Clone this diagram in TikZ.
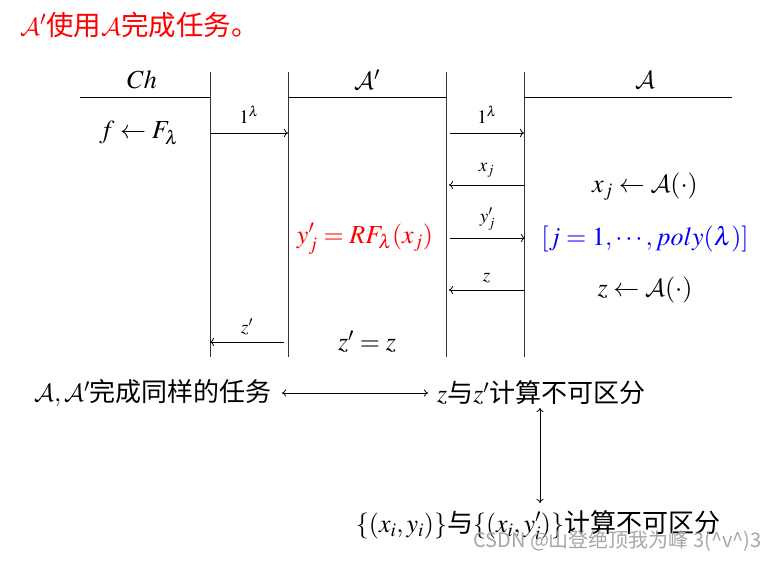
\documentclass[tikz,border=0pt]{standalone}
\usepackage{mathptmx}
\DeclareMathAlphabet{\mathcal}{OMS}{cmsy}{m}{n}
\usepackage{fontspec}
\setmainfont{Liberation Serif}
\newfontfamily\cjk{Noto Sans CJK SC}
\usetikzlibrary{arrows.meta}
\begin{document}
\begin{tikzpicture}[x=1pt,y=-1pt,
  every node/.style={inner sep=0pt},
  life/.style={line width=0.9pt, black!80},
  head/.style={line width=0.9pt, black},
  big/.style={font=\fontsize{26}{30}\selectfont},
  ttl/.style={font=\fontsize{27.5}{32}\selectfont, red},
  lbl/.style={font=\fontsize{19}{22}\selectfont},
  msg/.style={line width=0.8pt, -{To[length=4pt,width=8pt]}},
  dbl/.style={line width=0.8pt, {To[length=4pt,width=7pt]}-{To[length=4pt,width=7pt]}},
  wm/.style={font=\cjk\fontsize{20}{24}\selectfont, black!35}]
\useasboundingbox (0,0) rectangle (775,561);

% title
\node[ttl, anchor=west] (title) at (20,25) {$\mathcal{A}'${\cjk 使用}$\mathcal{A}${\cjk 完成任务。}};

% lifelines
\coordinate (l1t) at (210,72); \coordinate (l1b) at (210,357);
\coordinate (l2t) at (288,72); \coordinate (l2b) at (288,357);
\coordinate (l3t) at (446,72); \coordinate (l3b) at (446,357);
\coordinate (l4t) at (524,72); \coordinate (l4b) at (524,357);
\draw[life] (l1t) -- (l1b);
\draw[life] (l2t) -- (l2b);
\draw[life] (l3t) -- (l3b);
\draw[life] (l4t) -- (l4b);

% header lines
\coordinate (h1a) at (80,97);  \coordinate (h1b) at (210,97);
\coordinate (h2a) at (288,97); \coordinate (h2b) at (446,97);
\coordinate (h3a) at (524,97); \coordinate (h3b) at (732,97);
\draw[head] (h1a) -- (h1b);
\draw[head] (h2a) -- (h2b);
\draw[head] (h3a) -- (h3b);

\node[big] (ch) at (142,80) {$Ch$};
\node[big] (ap) at (367,80) {$\mathcal{A}'$};
\node[big] (a) at (645,80) {$\mathcal{A}$};

% left column
\node[big] (fF) at (139,133) {$f\leftarrow F_\lambda$};

% messages
\coordinate (m1s) at (210,133); \coordinate (m1e) at (288,133);
\draw[msg] (m1s) -- node[lbl, above=9pt] (m1l) {$1^\lambda$} (m1e);

\coordinate (m2s) at (450,133); \coordinate (m2e) at (524,133);
\draw[msg] (m2s) -- node[lbl, above=9pt] (m2l) {$1^\lambda$} (m2e);

\coordinate (m3s) at (524,185); \coordinate (m3e) at (449,185);
\draw[msg] (m3s) -- node[lbl, above=7pt] (m3l) {$x_j$} (m3e);

\coordinate (m4s) at (450,238); \coordinate (m4e) at (525,238);
\draw[msg] (m4s) -- node[lbl, above=7pt] (m4l) {$y_j'$} (m4e);

\coordinate (m5s) at (524,290); \coordinate (m5e) at (449,290);
\draw[msg] (m5s) -- node[lbl, above=7pt] (m5l) {$z$} (m5e);

\coordinate (m6s) at (284,342); \coordinate (m6e) at (210,342);
\draw[msg] (m6s) -- node[lbl, above=7pt] (m6l) {$z'$} (m6e);

% A column
\node[big] (xa) at (645,187) {$x_j\leftarrow\mathcal{A}(\cdot)$};
\node[big, blue] (jj) at (645,239) {$[j=1,\cdots,poly(\lambda)]$};
\node[big] (za) at (645,290) {$z\leftarrow\mathcal{A}(\cdot)$};

% A' column
\node[big, red] (yrf) at (365,239) {$y_j'=RF_\lambda(x_j)$};
\node[big] (zz) at (367,342) {$z'=z$};

% bottom
\node[big, anchor=east] (same) at (272,393) {$\mathcal{A},\mathcal{A}'${\cjk 完成同样的任务}};
\node[big, anchor=west] (zind) at (437,393) {$z${\cjk 与}$z'${\cjk 计算不可区分}};
\path (same.east) ++(10,0) coordinate (d1s) (zind.west) ++(-9,0) coordinate (d1e);
\draw[dbl] (d1s) -- (d1e);

\coordinate (v1s) at (540,408); \coordinate (v1e) at (540,503);
\draw[dbl] (v1s) -- (v1e);

\node[big] (xy) at (538,525) {$\{(x_i,y_i)\}${\cjk 与}$\{(x_i,y_i')\}${\cjk 计算不可区分}};

% watermark
\node[wm, anchor=east] (wmk) at (762,541) {CSDN @山登绝顶我为峰 3(\textasciicircum v\textasciicircum)3};
\end{tikzpicture}
\end{document}
